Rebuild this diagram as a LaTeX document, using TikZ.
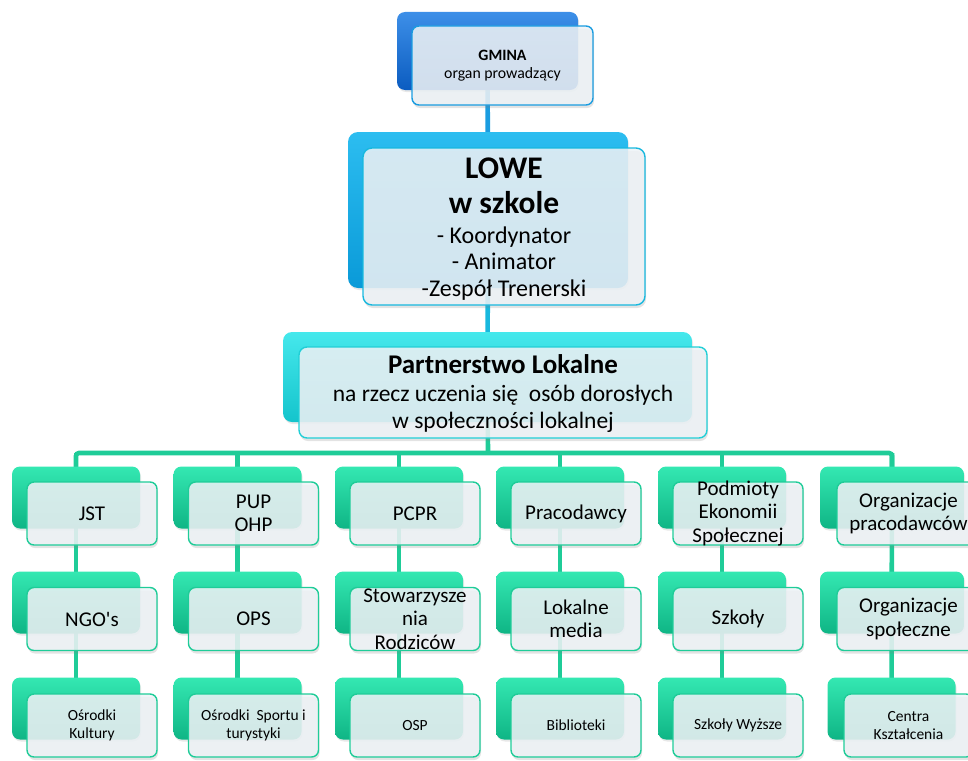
\documentclass[tikz,border=0pt]{standalone}
\usepackage{fontspec}
\setmainfont{Carlito}[Ligatures=TeXOff]
\usetikzlibrary{shadows,backgrounds}
\definecolor{gminaT}{HTML}{3D8FE8}
\definecolor{gminaB}{HTML}{0B5CC0}
\definecolor{loweT}{HTML}{2CBDF0}
\definecolor{loweB}{HTML}{0A9AD8}
\definecolor{partT}{HTML}{45E8EC}
\definecolor{partB}{HTML}{14C4CC}
\definecolor{grT}{HTML}{34E8B2}
\definecolor{grB}{HTML}{0FB585}
\definecolor{gminaL}{HTML}{1A9CE0}
\definecolor{loweL}{HTML}{18B8DE}
\definecolor{partL}{HTML}{22CFD6}
\definecolor{grL}{HTML}{1FCC98}
\definecolor{frontfill}{HTML}{EEF3F7}
\tikzset{
  backbox/.style={rectangle, rounded corners=8pt, inner sep=0pt, draw=none,
    top color=#1T, bottom color=#1B,
    drop shadow={opacity=0.18, shadow xshift=1pt, shadow yshift=-2pt}},
  frontbox/.style={rectangle, rounded corners=7pt, inner sep=0pt, draw=#1L,
    line width=1.4pt, fill=frontfill, fill opacity=0.86, text opacity=1,
    drop shadow={opacity=0.22, shadow xshift=1pt, shadow yshift=-3pt}},
  conn/.style={line width=4.6pt},
  txt/.style={inner sep=0pt, align=center, text=black},
  rowA/.style={txt, font=\fontsize{21}{23.5}\selectfont},
  rowC/.style={txt, font=\fontsize{15.5}{17.5}\selectfont},
}
\newcommand\grp[9]{%
  \node[backbox=gr, minimum width=#4pt, minimum height=62pt] (#1b) at (#2,#3) {};
  \node[frontbox=gr, minimum width=#7pt, minimum height=63pt] (#1f) at (#5,#6) {};
  \node[#9] (#1t) at (#1f) {#8};
}
\begin{document}
\begin{tikzpicture}[x=1pt,y=-1pt]
\useasboundingbox (0,0) rectangle (968,760);
% top
\node[backbox=gmina, minimum width=181pt, minimum height=78pt] (gb) at (487.5,51) {};
\node[frontbox=gmina, minimum width=181pt, minimum height=79pt] (gf) at (502.5,65.5) {};
\node[txt, font=\fontsize{15.8}{18.5}\selectfont] (gt) at (gf) {{\bfseries GMINA}\\organ prowadzący};
% LOWE
\node[backbox=lowe, rounded corners=10pt, minimum width=280pt, minimum height=156pt] (lb) at (488,210) {};
\node[frontbox=lowe, rounded corners=9pt, minimum width=282pt, minimum height=157pt] (lf) at (504,226.5) {};
\node[txt, font=\fontsize{24}{26.5}\selectfont] (lt) at (504,229) {{\fontsize{31.5}{35}\selectfont\bfseries LOWE}\\[8.5pt]{\fontsize{31.5}{35}\selectfont\bfseries w szkole}\\[3.5pt]- Koordynator\\- Animator\\-Zespół Trenerski};
% Partnerstwo
\node[backbox=part, rounded corners=9pt, minimum width=409pt, minimum height=90pt] (pb) at (487.5,377) {};
\node[frontbox=part, rounded corners=8pt, minimum width=408pt, minimum height=91pt] (pf) at (503,392.5) {};
\node[txt, font=\fontsize{23.5}{27.5}\selectfont] (pt) at (503,394) {{\fontsize{27}{27.5}\selectfont\bfseries Partnerstwo Lokalne}\\na rzecz uczenia się~ osób dorosłych\\w społeczności lokalnej};
% green grid
\grp{a1}{76}{497.5}{128}{92}{513.5}{130}{JST}{rowA}
\grp{a2}{76}{602.5}{128}{92}{619}{130}{NGO's}{rowA}
\grp{a3}{76}{708.5}{128}{92}{725.5}{130}{Ośrodki\\Kultury}{rowC}
\grp{b1}{237.5}{497.5}{128}{253.5}{513.5}{130}{PUP\\OHP}{rowA}
\grp{b2}{237.5}{602.5}{128}{253.5}{619}{130}{OPS}{rowA}
\grp{b3}{237.5}{708.5}{128}{253.5}{725.5}{130}{Ośrodki~ Sportu i\\turystyki}{rowC}
\grp{c1}{399}{497.5}{128}{415}{513.5}{130}{PCPR}{rowA}
\grp{c2}{399}{602.5}{128}{415}{619}{130}{Stowarzysze\\nia\\Rodziców}{rowA}
\grp{c3}{399}{708.5}{128}{415}{725.5}{130}{OSP}{rowC}
\grp{d1}{560}{497.5}{128}{576}{513.5}{130}{Pracodawcy}{rowA}
\grp{d2}{560}{602.5}{128}{576}{619}{130}{Lokalne\\media}{rowA}
\grp{d3}{560}{708.5}{128}{576}{725.5}{130}{Biblioteki}{rowC}
\grp{e1}{722}{497.5}{128}{738}{513.5}{130}{Podmioty\\Ekonomii\\Społecznej}{rowA}
\grp{e2}{722}{602.5}{128}{738}{619}{130}{Szkoły}{rowA}
\grp{e3}{722}{708.5}{128}{738}{725.5}{130}{Szkoły Wyższe}{rowC}
\grp{f1}{892}{497.5}{144}{908.5}{513.5}{143}{Organizacje\\pracodawców}{rowA}
\grp{f2}{892}{602.5}{144}{908.5}{619}{143}{Organizacje\\społeczne}{rowA}
\grp{f3}{891.5}{708.5}{128}{908.5}{725.5}{129}{Centra\\Kształcenia}{rowC}
\coordinate (bus) at (488,453);
\begin{scope}[on background layer]
  \draw[conn, gminaL] (gb.center) -- (lb.center);
  \draw[conn, loweL] (lb.center) -- (pb.center);
  \draw[conn, grL] (pb.center) -- (bus);
  \draw[conn, grL, rounded corners=3pt] (a1b.center) -- (a1b.center |- bus) -- (f1b.center |- bus) -- (f1b.center);
  \foreach \c in {a,b,c,d,e,f}{
    \draw[conn, grL] (\c1b.center |- bus) -- (\c3b.center);
  }
\end{scope}
\end{tikzpicture}
\end{document}
